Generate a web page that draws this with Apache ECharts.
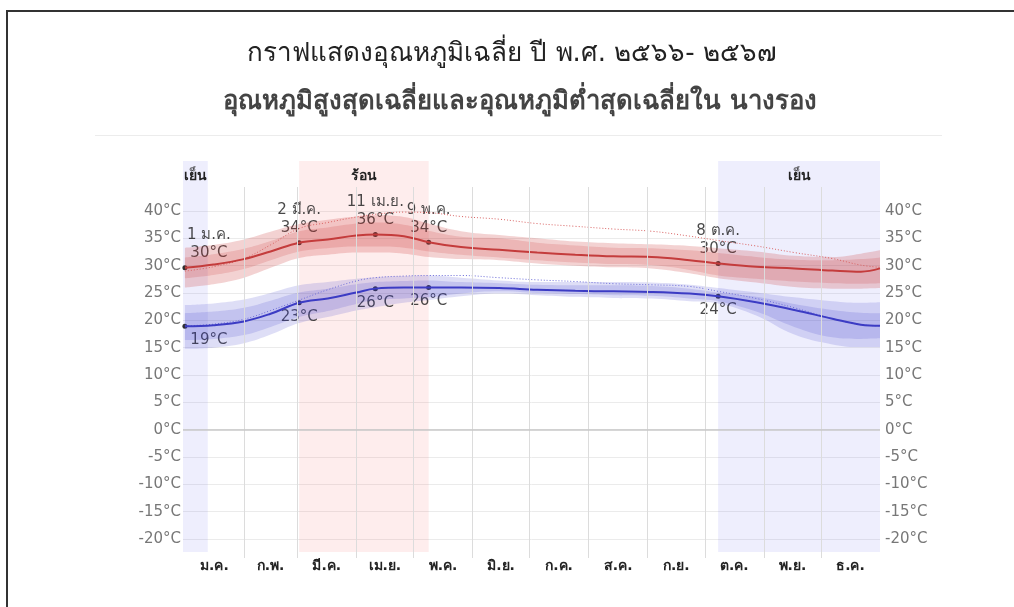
<!DOCTYPE html>
<html>
<head>
<meta charset="utf-8">
<script src="https://cdn.jsdelivr.net/npm/echarts@6/dist/echarts.min.js"></script>
<style>
  html, body { margin: 0; padding: 0; background: #fff; overflow: hidden; }
  #main { position: absolute; left: 0; top: 0; width: 1014px; height: 607px; }
  #frame { position: absolute; left: 6px; top: 10px; width: 1100px; height: 700px;
           border-top: 2px solid #333; border-left: 2px solid #333; pointer-events: none; }
  #rule { position: absolute; left: 95px; top: 135px; width: 847px; height: 1px; background: #ececec; }
</style>
</head>
<body>
<div id="main"></div>
<div id="frame"></div>
<div id="rule"></div>
<script>
// วันของปี (0 = 1 ม.ค.) ที่อ่านค่าจากกราฟ
const days = [0, 15, 31, 45, 60, 75, 90, 100, 115, 128, 145, 165, 185, 205, 225, 245, 265, 280, 300, 320, 340, 355, 365];

// อุณหภูมิสูงสุดเฉลี่ย
const highAvg = [29.6, 30.2, 31.2, 32.6, 34.2, 34.8, 35.5, 35.7, 35.4, 34.3, 33.4, 32.9, 32.4, 32.0, 31.7, 31.6, 31.0, 30.4, 29.8, 29.5, 29.1, 28.9, 29.5];
const highOuterLo = [26.0, 26.6, 27.8, 29.6, 31.4, 32.0, 32.4, 32.4, 32.2, 31.6, 31.2, 31.0, 30.4, 30.0, 29.7, 29.5, 28.6, 27.7, 26.9, 26.1, 25.8, 25.8, 25.9];
const highOuterHi = [33.3, 33.8, 34.8, 36.2, 37.6, 38.4, 39.0, 39.2, 38.9, 37.7, 36.3, 35.6, 35.0, 34.4, 34.1, 33.9, 33.6, 33.2, 32.6, 31.8, 31.6, 32.2, 32.8];
const highInnerLo = [27.7, 28.3, 29.4, 31.0, 32.6, 33.2, 33.5, 33.5, 33.3, 32.6, 32.0, 31.5, 31.0, 30.6, 30.3, 30.1, 29.2, 28.2, 27.6, 27.1, 26.8, 26.7, 26.8];
const highInnerHi = [31.5, 32.1, 33.1, 34.5, 36.3, 37.0, 37.7, 37.9, 37.5, 36.4, 35.3, 35.0, 34.2, 33.7, 33.3, 33.2, 32.8, 32.3, 31.6, 31.1, 31.0, 31.2, 31.5];
const highDotted = [29.0, 29.8, 31.3, 33.8, 36.8, 37.9, 38.9, 39.4, 39.8, 39.7, 39.0, 38.5, 37.7, 37.2, 36.7, 36.3, 35.4, 34.6, 33.6, 32.4, 31.3, 30.1, 29.7];

// อุณหภูมิต่ำสุดเฉลี่ย
const lowAvg = [18.9, 19.1, 19.8, 21.2, 23.2, 24.0, 25.1, 25.8, 26.0, 26.0, 26.0, 25.9, 25.6, 25.4, 25.3, 25.2, 24.9, 24.4, 23.3, 21.9, 20.3, 19.2, 19.0];
const lowOuterLo = [14.8, 15.0, 15.8, 17.4, 19.5, 20.6, 21.8, 22.4, 23.2, 23.7, 24.4, 24.9, 24.6, 24.3, 24.1, 24.0, 23.5, 23.1, 20.9, 17.4, 15.6, 15.1, 15.1];
const lowOuterHi = [22.8, 23.1, 23.8, 25.0, 26.4, 27.0, 27.6, 27.9, 28.1, 28.2, 27.8, 27.3, 27.0, 27.0, 27.0, 26.9, 26.5, 25.9, 25.1, 24.2, 23.5, 23.2, 23.3];
const lowInnerLo = [16.4, 16.6, 17.3, 18.8, 20.6, 21.7, 23.0, 23.7, 24.0, 24.2, 24.9, 25.3, 25.0, 24.8, 24.6, 24.5, 24.0, 23.5, 21.6, 18.8, 16.9, 16.6, 16.7];
const lowInnerHi = [21.3, 21.6, 22.3, 23.6, 25.1, 25.8, 26.6, 27.0, 27.2, 27.3, 27.0, 26.8, 26.5, 26.4, 26.4, 26.3, 25.8, 25.1, 24.3, 23.0, 21.9, 21.4, 21.3];
const lowDotted = [19.0, 19.3, 20.2, 21.8, 23.7, 25.6, 27.2, 27.8, 28.1, 28.2, 28.2, 27.8, 27.4, 27.1, 26.7, 26.5, 26.2, 25.3, 24.0, 22.3, 20.3, 19.2, 19.0];

// จุดที่มีป้ายกำกับ
const markDays = [0, 60, 100, 128, 280];
const markDates = ['1 ม.ค.', '2 มี.ค.', '11 เม.ย.', '9 พ.ค.', '8 ต.ค.'];

// ฤดู
const seasonFrom = [-1, 60, 280];
const seasonTo = [12, 128, 365];
const seasonName = ['เย็น', 'ร้อน', 'เย็น'];
const seasonHot = [false, true, false];

// เดือน
const monthNames = ['ม.ค.', 'ก.พ.', 'มี.ค.', 'เม.ย.', 'พ.ค.', 'มิ.ย.', 'ก.ค.', 'ส.ค.', 'ก.ย.', 'ต.ค.', 'พ.ย.', 'ธ.ค.'];
const monthStart = [0, 31, 59, 90, 120, 151, 181, 212, 243, 273, 304, 334, 365];

// แกน y
const yMin = -20, yMax = 40, yStep = 5;

const font = 'Tahoma, "DejaVu Sans", "Noto Sans", sans-serif';
const monthMid = monthNames.map((m, i) => (monthStart[i] + monthStart[i + 1]) / 2);
const pts = (arr) => days.map((d, i) => [d, arr[i]]);
const dayIdx = (d) => days.indexOf(d);

// stack ต้องซ้อนบนแกน y จึงเอาค่าอุณหภูมิไว้มิติแรก
const bandSeries = (name, lo, hi, color) => [
  {
    name: name + '_base', type: 'line', xAxisIndex: 2, yAxisIndex: 0, stack: name,
    smooth: 0.4, symbol: 'none', silent: true, lineStyle: { opacity: 0 },
    encode: { x: 1, y: 0 },
    data: days.map((d, i) => [lo[i], d])
  },
  {
    name: name, type: 'line', xAxisIndex: 2, yAxisIndex: 0, stack: name,
    smooth: 0.4, symbol: 'none', silent: true, lineStyle: { opacity: 0 },
    areaStyle: { color: color, opacity: 1 },
    encode: { x: 1, y: 0 },
    data: days.map((d, i) => [+(hi[i] - lo[i]).toFixed(2), d])
  }
];

const myChart = echarts.init(document.getElementById('main'));

const option = {
  animation: false,
  backgroundColor: 'transparent',
  title: [
    {
      text: 'กราฟแสดงอุณหภูมิเฉลี่ย ปี พ.ศ. ๒๕๖๖- ๒๕๖๗',
      left: 507, top: 36, textAlign: 'center',
      textStyle: { fontFamily: font, fontSize: 26, fontWeight: 'normal', color: '#222' }
    },
    {
      text: 'อุณหภูมิสูงสุดเฉลี่ยและอุณหภูมิต่ำสุดเฉลี่ยใน นางรอง',
      left: 515, top: 84, textAlign: 'center',
      textStyle: { fontFamily: font, fontSize: 25.7, fontWeight: 600, color: '#444' }
    }
  ],
  grid: [
    { left: 183, right: 134, top: 161, bottom: 55 },   // แถบฤดู
    { left: 183, right: 134, top: 187, bottom: 49 },   // เส้นแบ่งเดือน
    { left: 183, right: 134, top: 211, bottom: 68 }    // ข้อมูล
  ],
  xAxis: [
    { gridIndex: 0, type: 'value', min: -1, max: 365, show: false },
    {
      gridIndex: 1, type: 'value', min: -1, max: 365,
      axisLine: { show: false }, axisTick: { show: false }, splitLine: { show: false },
      axisLabel: {
        customValues: monthMid,
        formatter: (v) => monthNames[monthMid.indexOf(v)],
        color: '#222', fontSize: 14, fontWeight: 600, fontFamily: font, margin: 1
      }
    },
    { gridIndex: 2, type: 'value', min: -1, max: 365, show: false }
  ],
  yAxis: [
    {
      gridIndex: 2, type: 'value', min: yMin, max: yMax, interval: yStep,
      axisLine: { show: false }, axisTick: { show: false },
      axisLabel: { formatter: '{value}°C', color: '#777', fontSize: 15, fontFamily: font, margin: 2 },
      splitLine: { lineStyle: { color: '#ebebeb' } }
    },
    {
      gridIndex: 2, type: 'value', min: yMin, max: yMax, interval: yStep, position: 'right',
      axisLine: { show: false }, axisTick: { show: false }, splitLine: { show: false },
      axisLabel: { formatter: '{value}°C', color: '#777', fontSize: 15, fontFamily: font, margin: 5 }
    },
    { gridIndex: 0, type: 'value', min: 0, max: 1, show: false },
    { gridIndex: 1, type: 'value', min: 0, max: 1, show: false }
  ],
  series: [
    {
      name: 'seasons', type: 'line', xAxisIndex: 0, yAxisIndex: 2, data: [], silent: true,
      markArea: {
        silent: true,
        label: { position: 'insideTop', distance: 8, color: '#222', fontWeight: 'bold', fontSize: 14, fontFamily: font },
        data: seasonName.map((n, i) => [
          { name: n, xAxis: seasonFrom[i], itemStyle: { color: seasonHot[i] ? 'rgba(250,90,90,0.11)' : 'rgba(90,90,240,0.10)' } },
          { xAxis: seasonTo[i] }
        ])
      }
    },
    {
      name: 'months', type: 'line', xAxisIndex: 1, yAxisIndex: 3, data: [], silent: true,
      markLine: {
        silent: true, symbol: 'none', label: { show: false },
        lineStyle: { color: '#dcdcdc', type: 'solid', width: 1 },
        data: monthStart.slice(1, 12).map((d) => ({ xAxis: d }))
      }
    },
    ...bandSeries('highOuter', highOuterLo, highOuterHi, 'rgba(200,50,50,0.22)'),
    ...bandSeries('highInner', highInnerLo, highInnerHi, 'rgba(200,50,50,0.18)'),
    ...bandSeries('lowOuter', lowOuterLo, lowOuterHi, 'rgba(60,60,200,0.17)'),
    ...bandSeries('lowInner', lowInnerLo, lowInnerHi, 'rgba(60,60,200,0.17)'),
    {
      name: 'zero', type: 'line', xAxisIndex: 2, yAxisIndex: 0, data: [], silent: true,
      markLine: {
        silent: true, symbol: 'none', label: { show: false },
        lineStyle: { color: '#c8c8c8', type: 'solid', width: 1.5 },
        data: [{ yAxis: 0 }]
      }
    },
    {
      name: 'highDotted', type: 'line', xAxisIndex: 2, yAxisIndex: 0, smooth: 0.4, symbol: 'none', silent: true,
      lineStyle: { color: '#d86060', width: 1, type: [1, 2] },
      data: pts(highDotted)
    },
    {
      name: 'lowDotted', type: 'line', xAxisIndex: 2, yAxisIndex: 0, smooth: 0.4, symbol: 'none', silent: true,
      lineStyle: { color: '#6a6ad8', width: 1, type: [1, 2] },
      data: pts(lowDotted)
    },
    {
      name: 'high', type: 'line', xAxisIndex: 2, yAxisIndex: 0, smooth: 0.4, symbol: 'none', silent: true,
      lineStyle: { color: '#c43c3c', width: 2 },
      data: pts(highAvg)
    },
    {
      name: 'low', type: 'line', xAxisIndex: 2, yAxisIndex: 0, smooth: 0.4, symbol: 'none', silent: true,
      lineStyle: { color: '#3c3cc4', width: 2 },
      data: pts(lowAvg)
    },
    {
      name: 'highMarks', type: 'scatter', xAxisIndex: 2, yAxisIndex: 0, symbolSize: 5, silent: true,
      itemStyle: { color: '#000' },
      label: {
        show: true, position: 'top', distance: 3, color: '#1a1a1a', fontSize: 15, fontFamily: font, lineHeight: 18, align: 'center',
        formatter: (p) => markDates[p.dataIndex] + '\n' + Math.round(p.value[1]) + '°C'
      },
      data: markDays.map((d, i) => ({
        value: [d, highAvg[dayIdx(d)]],
        label: i === 0 ? { offset: [24, 0] } : {}
      }))
    },
    {
      name: 'lowMarks', type: 'scatter', xAxisIndex: 2, yAxisIndex: 0, symbolSize: 5, silent: true,
      itemStyle: { color: '#000' },
      label: {
        show: true, position: 'bottom', distance: 4, color: '#1a1a1a', fontSize: 15, fontFamily: font, align: 'center',
        formatter: (p) => Math.round(p.value[1]) + '°C'
      },
      data: markDays.map((d, i) => ({
        value: [d, lowAvg[dayIdx(d)]],
        label: i === 0 ? { offset: [24, 0] } : {}
      }))
    }
  ]
};

myChart.setOption(option);
</script>
</body>
</html>
